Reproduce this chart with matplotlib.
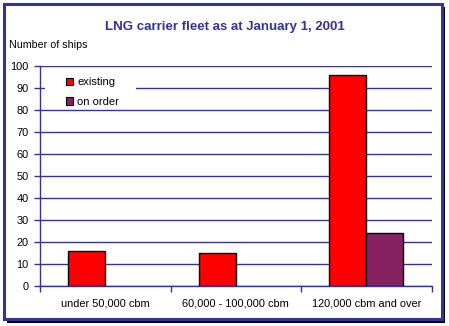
import matplotlib
matplotlib.use("Agg")
import matplotlib.pyplot as plt
from matplotlib.patches import Rectangle, Patch
import numpy as np

plt.rcParams['font.family'] = ['Liberation Sans', 'DejaVu Sans']

categories = ["under 50,000 cbm", "60,000 - 100,000 cbm", "120,000 cbm and over"]
existing = [16, 15, 96]
on_order = [0, 0, 24]
series_names = ["existing", "on order"]
y_ticks = [0, 10, 20, 30, 40, 50, 60, 70, 80, 90, 100]

NAVY = "#333399"
RED = "#FF0000"
PURPLE = "#862262"

W, H = 449, 326
fig = plt.figure(figsize=(W / 100, H / 100), dpi=100)
fig.patch.set_facecolor("white")

# framed chart area with a drop shadow, kept behind the axes
fig.patches.append(Rectangle((7 / W, (H - 323) / H), 438 / W, 316 / H,
                             transform=fig.transFigure, facecolor="black",
                             edgecolor="none", zorder=-3))
fig.patches.append(Rectangle((4 / W, (H - 319) / H), 438 / W, 315 / H,
                             transform=fig.transFigure, facecolor="white",
                             edgecolor=NAVY, linewidth=2.2, zorder=-2))

ax = fig.add_axes([40 / W, 40 / H, 391.7 / W, 220 / H])
ax.set_facecolor("none")

x = np.arange(len(categories))
w = 0.283
ax.bar(x - w / 2, existing, w, color=RED, edgecolor="black", linewidth=1, zorder=3)
b2 = ax.bar(x + w / 2, on_order, w, color=PURPLE, edgecolor="black",
            linewidth=1, zorder=3)
# categories without orders show no bar
for rect, v in zip(b2, on_order):
    if v == 0:
        rect.set_visible(False)

ax.set_xlim(-0.5, len(categories) - 0.5)
ax.set_ylim(0, 100)
ax.set_yticks(y_ticks)
ax.yaxis.grid(True, color=NAVY, linewidth=1)
ax.set_axisbelow(True)

for s in ["top", "right"]:
    ax.spines[s].set_visible(False)
for s in ["left", "bottom"]:
    ax.spines[s].set_color(NAVY)
    ax.spines[s].set_linewidth(1)

ax.set_xticks(np.arange(-0.5, len(categories)))
ax.set_xticklabels([])
ax.set_xticks(x, minor=True)
ax.set_xticklabels(categories, minor=True)
ax.tick_params(axis="x", which="major", direction="out", length=4, color=NAVY, width=1)
ax.tick_params(axis="x", which="minor", length=0, pad=9, labelsize=7.9)
ax.tick_params(axis="y", direction="out", length=4, color=NAVY, width=1,
               labelsize=7.9, pad=4)

# legend area: white panel over the gridlines, then the key itself
ax.add_patch(Rectangle((5 / 391.7, 0.814), 91 / 391.7, 0.168,
                       transform=ax.transAxes, facecolor="white",
                       edgecolor="none", zorder=4))
handles = [Patch(facecolor=RED, edgecolor="black", linewidth=0.8),
           Patch(facecolor=PURPLE, edgecolor="black", linewidth=0.8)]
leg = ax.legend(handles, series_names, loc="upper left",
                bbox_to_anchor=(26 / 391.7, 0.948), frameon=False,
                fontsize=8, handlelength=0.65, handleheight=0.65,
                handletextpad=0.35, labelspacing=0.85, borderpad=0,
                borderaxespad=0)
leg.set_zorder(5)

fig.text(225 / W, 1 - 27 / H, "LNG carrier fleet as at January 1, 2001",
         ha="center", va="center", fontsize=9.5, fontweight="bold", color=NAVY)
fig.text(9 / W, 1 - 45 / H, "Number of ships", ha="left", va="center",
         fontsize=7.7, color="black")

fig.savefig("out.png", dpi=100)
